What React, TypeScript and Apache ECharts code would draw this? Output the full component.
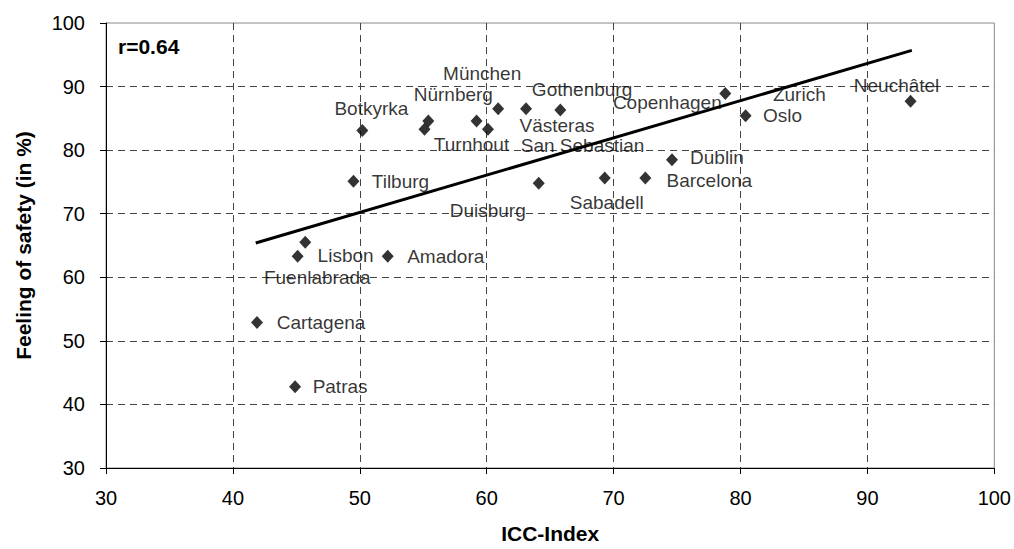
import React, { useEffect, useRef } from "react";
import * as echarts from "echarts";

const cities = [
  "Botkyrka", "Nürnberg", "Turnhout", "San Sebastian", "Västeras", "München",
  "Gothenburg", "Zurich", "Copenhagen", "Oslo", "Neuchâtel", "Dublin",
  "Duisburg", "Sabadell", "Barcelona", "Tilburg", "Fuenlabrada", "Lisbon",
  "Amadora", "Cartagena", "Patras",
];
const iccIndex = [
  50.2, 55.4, 55.1, 59.2, 60.1, 60.9,
  63.1, 65.8, 78.8, 80.4, 93.4, 74.6,
  64.1, 69.3, 72.5, 49.5, 45.7, 45.1,
  52.2, 41.9, 44.9,
];
const feelingOfSafety = [
  83.1, 84.6, 83.3, 84.6, 83.3, 86.5,
  86.5, 86.3, 88.9, 85.4, 87.7, 78.5,
  74.8, 75.6, 75.6, 75.1, 65.5, 63.3,
  63.3, 52.9, 42.8,
];
const trendX = [41.8, 93.5];
const trendY = [65.4, 95.7];
const correlationText = "r=0.64";
const xTicks = { min: 30, max: 100, interval: 10 };
const yTicks = { min: 30, max: 100, interval: 10 };

// label placement (pixels, relative to each marker)
const labelOffsets: [number, number][] = [
  [9, -22], [25, -26], [47, 15], [106, 25], [69, -4], [-16, -35],
  [56, -19], [239, -16], [-58, 9], [37, 0], [-14, -16], [45, -2],
  [-51, 27], [2, 24], [64, 2], [47, 0], [12, 35], [48, -1],
  [58, 0], [64, 0], [45, 0],
];

const FONT = "'Liberation Sans', Arial, Helvetica, sans-serif";

export default function App() {
  const ref = useRef<HTMLDivElement>(null);
  useEffect(() => {
    if (!ref.current) return;
    const chart = echarts.init(ref.current, undefined, { renderer: "svg" });
    const scatterData = cities.map((name, i) => ({
      name,
      value: [iccIndex[i], feelingOfSafety[i]],
      label: { offset: labelOffsets[i] },
    }));
    const splitLine = {
      show: true,
      showMinLine: false,
      showMaxLine: false,
      lineStyle: { color: "#444", width: 1, type: [7, 5] as any },
    };
    chart.setOption({
      animation: false,
      backgroundColor: "#fff",
      textStyle: { fontFamily: FONT },
      title: {
        text: correlationText,
        left: 118,
        top: 36,
        padding: 0,
        textStyle: { fontSize: 21, fontWeight: "bold", color: "#000", fontFamily: FONT },
      },
      grid: {
        left: 106,
        right: 18,
        top: 23,
        bottom: 77,
        show: true,
        borderColor: "#888",
        borderWidth: 1,
        backgroundColor: "transparent",
      },
      xAxis: {
        type: "value",
        min: xTicks.min,
        max: xTicks.max,
        interval: xTicks.interval,
        name: "ICC-Index",
        nameLocation: "middle",
        nameGap: 55,
        nameTextStyle: { fontSize: 21, fontWeight: "bold", color: "#000", fontFamily: FONT },
        axisLine: { show: true, onZero: false, lineStyle: { color: "#000", width: 1 } },
        axisTick: { show: true, inside: false, length: 6, lineStyle: { color: "#000" } },
        axisLabel: { fontSize: 20, color: "#000", margin: 20, fontFamily: FONT },
        splitLine,
      },
      yAxis: {
        type: "value",
        min: yTicks.min,
        max: yTicks.max,
        interval: yTicks.interval,
        name: "Feeling of safety (in %)",
        nameLocation: "middle",
        nameGap: 72,
        nameTextStyle: { fontSize: 21, fontWeight: "bold", color: "#000", fontFamily: FONT },
        axisLine: { show: true, onZero: false, lineStyle: { color: "#000", width: 1 } },
        axisTick: { show: true, inside: false, length: 6, lineStyle: { color: "#000" } },
        axisLabel: { fontSize: 20, color: "#000", margin: 21, fontFamily: FONT },
        splitLine,
      },
      series: [
        {
          type: "line",
          data: trendX.map((x, i) => [x, trendY[i]]),
          showSymbol: false,
          symbol: "none",
          lineStyle: { color: "#000", width: 3 },
          z: 3,
          silent: true,
        },
        {
          type: "scatter",
          data: scatterData,
          symbol: "diamond",
          symbolSize: [12, 13],
          itemStyle: { color: "#000" },
          z: 4,
          label: {
            show: true,
            position: "inside",
            formatter: "{b}",
            fontSize: 19,
            color: "#000",
            fontFamily: FONT,
            align: "center",
            verticalAlign: "middle",
          },
        },
      ],
    });
    return () => chart.dispose();
  }, []);
  return (
    <div
      ref={ref}
      style={{ position: "fixed", left: 0, top: 0, width: 1014, height: 549, background: "#fff" }}
    />
  );
}
